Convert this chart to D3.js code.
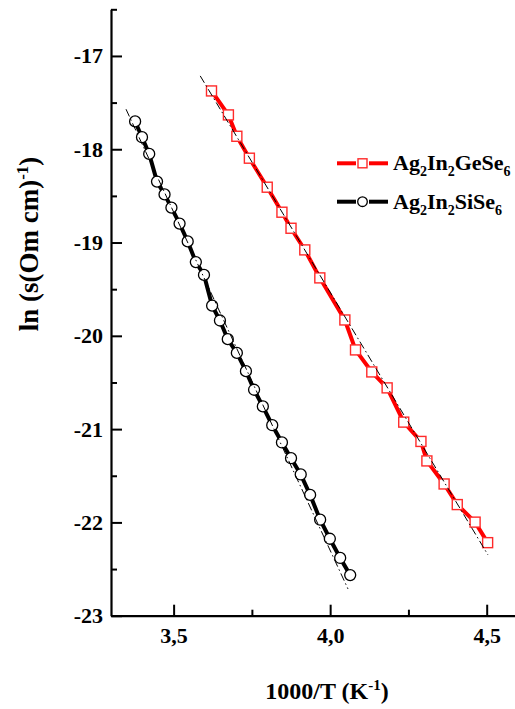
<!DOCTYPE html>
<html>
<head>
<meta charset="utf-8">
<script src="https://cdn.jsdelivr.net/npm/d3@7"></script>
<style>
  body { margin: 0; background: #fff; }
  svg { display: block; }
  text { font-family: "Liberation Serif", "Times New Roman", serif; font-weight: bold; fill: #000; }
</style>
</head>
<body>
<div id="chart"></div>
<script>
// Ag2In2GeSe6 : 1000/T vs ln(sigma)
const geX = [3.621, 3.675, 3.702, 3.742, 3.799, 3.846, 3.875, 3.919, 3.967, 4.047,
             4.081, 4.133, 4.182, 4.235, 4.290, 4.309, 4.364, 4.406, 4.463, 4.503];
const geY = [-17.375, -17.632, -17.861, -18.096, -18.407, -18.675, -18.847, -19.079, -19.379, -19.830,
             -20.151, -20.387, -20.558, -20.925, -21.132, -21.341, -21.588, -21.809, -21.997, -22.217];

// Ag2In2SiSe6
const siX = [3.377, 3.399, 3.422, 3.447, 3.471, 3.493, 3.519, 3.545, 3.571, 3.597,
             3.623, 3.648, 3.673, 3.702, 3.731, 3.757, 3.785, 3.815, 3.846, 3.875,
             3.906, 3.936, 3.968, 3.999, 4.032, 4.064];
const siY = [-17.702, -17.871, -18.050, -18.347, -18.484, -18.626, -18.797, -18.988, -19.210, -19.347,
             -19.677, -19.836, -20.036, -20.183, -20.379, -20.578, -20.757, -20.958, -21.143, -21.312,
             -21.486, -21.705, -21.971, -22.175, -22.381, -22.565];

// linear fits (end points)
const geFitX = [3.585, 4.504];
const geFitY = [-17.214, -22.348];
const siFitX = [3.348, 4.057];
const siFitY = [-17.571, -22.713];

const xMajor = [3.5, 4.0, 4.5];
const xMinor = [3.75, 4.25];
const yMajor = [-23, -22, -21, -20, -19, -18, -17];
const yMinor = [-22.5, -21.5, -20.5, -19.5, -18.5, -17.5, -16.5];

const W = 515, H = 709;

const svg = d3.select("#chart").append("svg")
    .attr("width", W)
    .attr("height", H);

const x = d3.scaleLinear().domain([3.3, 4.6]).range([111, 518]);
const y = d3.scaleLinear().domain([-23, -16.5]).range([615.7, 9.3]);

// comma decimal, plain hyphen minus
const fmtX = d => d.toFixed(1).replace(".", ",");
const fmtY = d => String(d);

// axes
svg.append("g")
    .attr("transform", "translate(0," + y(-23) + ")")
    .call(d3.axisBottom(x).tickValues(xMajor).tickFormat(fmtX)
      .tickSizeInner(-11).tickSizeOuter(0).tickPadding(12));
svg.append("g")
    .attr("transform", "translate(0," + y(-23) + ")")
    .call(d3.axisBottom(x).tickValues(xMinor).tickFormat("")
      .tickSizeInner(-6).tickSizeOuter(0))
    .call(g => g.select(".domain").remove());

svg.append("g")
    .attr("transform", "translate(" + x(3.3) + ",0)")
    .call(d3.axisLeft(y).tickValues(yMajor).tickFormat(fmtY)
      .tickSizeInner(-11).tickSizeOuter(0).tickPadding(8));
svg.append("g")
    .attr("transform", "translate(" + x(3.3) + ",0)")
    .call(d3.axisLeft(y).tickValues(yMinor).tickFormat("")
      .tickSizeInner(-6).tickSizeOuter(0))
    .call(g => g.select(".domain").remove());

svg.selectAll(".domain").attr("stroke-width", 2.2);
svg.selectAll(".tick line").attr("stroke-width", 2);
svg.selectAll(".tick text").attr("font-size", 22);

// axis titles
const xt = svg.append("text")
    .attr("x", 327)
    .attr("y", 699)
    .attr("text-anchor", "middle")
    .attr("font-size", 24);
xt.append("tspan").text("1000/T (K");
xt.append("tspan").attr("font-size", 15).attr("dy", -9).text("-1");
xt.append("tspan").attr("dy", 9).text(")");

const yt = svg.append("text")
    .attr("transform", "translate(38,244) rotate(-90)")
    .attr("text-anchor", "middle")
    .attr("font-size", 27);
yt.append("tspan").text("ln (s(Om cm)");
yt.append("tspan").attr("font-size", 17).attr("dy", -10).text("-1");
yt.append("tspan").attr("dy", 10).text(")");

// series
const line = d3.line().x(d => x(d[0])).y(d => y(d[1]));
const ge = geX.map((v, i) => [v, geY[i]]);
const si = siX.map((v, i) => [v, siY[i]]);

svg.append("path").datum(si)
    .attr("d", line).attr("fill", "none")
    .attr("stroke", "#000").attr("stroke-width", 4);
svg.append("path").datum(ge)
    .attr("d", line).attr("fill", "none")
    .attr("stroke", "#ff0000").attr("stroke-width", 4);

svg.selectAll("circle.si").data(si).enter().append("circle")
    .attr("class", "si")
    .attr("cx", d => x(d[0])).attr("cy", d => y(d[1]))
    .attr("r", 5.5)
    .attr("fill", "#fff").attr("stroke", "#000").attr("stroke-width", 1.3);

const sq = 10;
svg.selectAll("rect.ge").data(ge).enter().append("rect")
    .attr("class", "ge")
    .attr("x", d => x(d[0]) - sq / 2).attr("y", d => y(d[1]) - sq / 2)
    .attr("width", sq).attr("height", sq)
    .attr("fill", "#fff").attr("stroke", "#ff2a2a").attr("stroke-width", 1.4);

// fit lines on top
[[geFitX, geFitY], [siFitX, siFitY]].forEach(f => {
  svg.append("path")
      .datum(f[0].map((v, i) => [v, f[1][i]]))
      .attr("d", line).attr("fill", "none")
      .attr("stroke", "#000").attr("stroke-width", 1)
      .attr("stroke-dasharray", "8,3,1.5,3");
});

// legend
const legend = [
  { color: "#ff0000", mark: "square", parts: ["Ag", "2", "In", "2", "GeSe", "6"] },
  { color: "#000", mark: "circle", parts: ["Ag", "2", "In", "2", "SiSe", "6"] }
];
legend.forEach((l, i) => {
  const ly = 163.3 + i * 38.4;
  const g = svg.append("g");
  g.append("line").attr("x1", 337).attr("x2", 356).attr("y1", ly).attr("y2", ly)
      .attr("stroke", l.color).attr("stroke-width", 4);
  g.append("line").attr("x1", 369).attr("x2", 388).attr("y1", ly).attr("y2", ly)
      .attr("stroke", l.color).attr("stroke-width", 4);
  if (l.mark === "square") {
    g.append("rect").attr("x", 362.5 - 4.5).attr("y", ly - 4.5).attr("width", 9).attr("height", 9)
        .attr("fill", "#fff").attr("stroke", "#ff2a2a").attr("stroke-width", 1.4);
  } else {
    g.append("circle").attr("cx", 362.5).attr("cy", ly).attr("r", 4.8)
        .attr("fill", "#fff").attr("stroke", "#000").attr("stroke-width", 1.3);
  }
  const t = g.append("text").attr("x", 393).attr("y", ly + 7).attr("font-size", 22);
  l.parts.forEach((p, j) => {
    if (j % 2 === 0) {
      t.append("tspan").attr("dy", j === 0 ? 0 : -6).attr("font-size", 22).text(p);
    } else {
      t.append("tspan").attr("dy", 6).attr("font-size", 14).text(p);
    }
  });
});
</script>
</body>
</html>
